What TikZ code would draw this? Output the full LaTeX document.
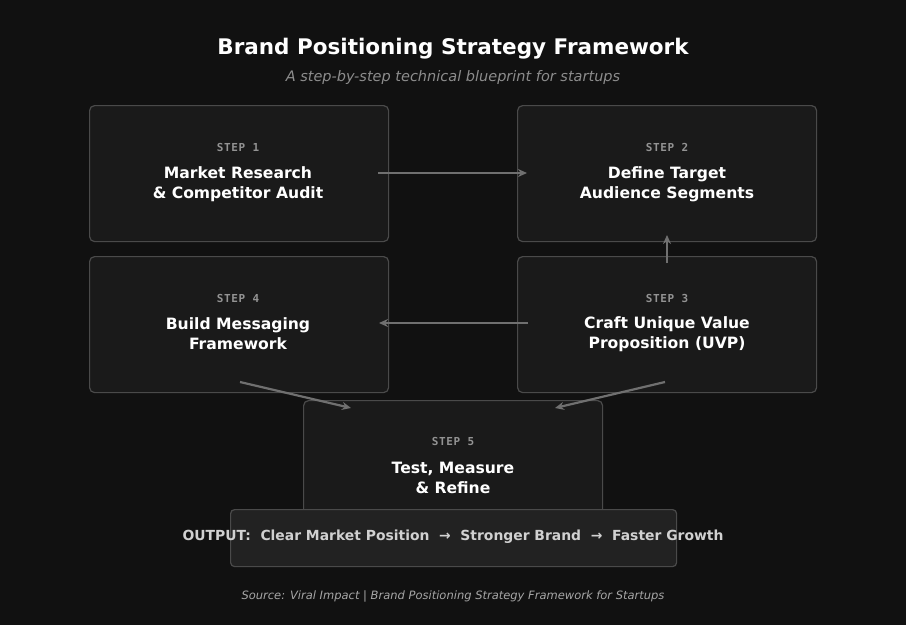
\documentclass[tikz,border=0pt]{standalone}
\usepackage{fontspec}
\setmainfont{DejaVu Sans}
\newfontfamily\monof[LetterSpace=6]{DejaVu Sans Mono}
\usetikzlibrary{arrows.meta}
\definecolor{bg}{HTML}{111111}
\definecolor{boxf}{HTML}{1A1A1A}
\definecolor{boxd}{HTML}{4A4A4A}
\definecolor{arr}{HTML}{707070}
\definecolor{outf}{HTML}{222222}
\tikzset{
 stepbox/.style={draw=boxd,fill=boxf,line width=1.2pt,rounded corners=5pt,minimum width=299pt,minimum height=136pt,anchor=north west},
 steplbl/.style={text=gray!85,font=\monof\bfseries\fontsize{11}{13}\selectfont},
 steptxt/.style={text=white,align=center,font=\bfseries\fontsize{15.6}{20}\selectfont},
 conn/.style={draw=arr,line width=2.2pt,-{Stealth[length=9pt,width=8pt]}}
}
\begin{document}
\begin{tikzpicture}[x=1pt,y=-1pt]
\useasboundingbox (0,0) rectangle (906,625);
\fill[bg] (0,0) rectangle (906,625);
\node[text=white,font=\bfseries\fontsize{21.5}{25}\selectfont] (title) at (453,49) {Brand Positioning Strategy Framework};
\node[text=gray!90,font=\itshape\fontsize{14.5}{17}\selectfont] (sub) at (453,77) {A step-by-step technical blueprint for startups};
\node[stepbox] (s1) at (89,105) {};
\node[stepbox] (s2) at (517,105) {};
\node[stepbox] (s4) at (89,256) {};
\node[stepbox] (s3) at (517,256) {};
\node[stepbox,minimum height=120pt] (s5) at (303,400) {};
\node[steplbl] at (238,147) {STEP 1};
\node[steptxt] at (238,184) {Market Research\\\& Competitor Audit};
\node[steplbl] at (667,147) {STEP 2};
\node[steptxt] at (667,184) {Define Target\\Audience Segments};
\node[steplbl] at (238,298) {STEP 4};
\node[steptxt] at (238,334) {Build Messaging\\Framework};
\node[steplbl] at (667,298) {STEP 3};
\node[steptxt] at (667,334) {Craft Unique Value\\Proposition (UVP)};
\node[steplbl] at (453,441) {STEP 5};
\node[steptxt] at (453,478) {Test, Measure\\\& Refine};
\node[draw=boxd,fill=outf,line width=1.2pt,rounded corners=4pt,minimum width=446pt,minimum height=57pt,anchor=north west] (out) at (230,509) {};
\node[text=white!82!black,font=\bfseries\fontsize{13.9}{17}\selectfont] at (453,537) {OUTPUT:\ \ Clear Market Position\ \ →\ \ Stronger Brand\ \ →\ \ Faster Growth};
\node[text=gray!70,font=\itshape\fontsize{11.5}{13}\selectfont] (src) at (453,596) {Source: Viral Impact | Brand Positioning Strategy Framework for Startups};
\coordinate (a1) at (378,173); \coordinate (b1) at (527,173);
\draw[conn] (a1) -- (b1);
\coordinate (a2) at (667,263); \coordinate (b2) at (667,235);
\draw[conn] (a2) -- (b2);
\coordinate (a3) at (528,323); \coordinate (b3) at (379,323);
\draw[conn] (a3) -- (b3);
\coordinate (a4) at (240,382); \coordinate (b4) at (351,408);
\draw[conn] (a4) -- (b4);
\coordinate (a5) at (665,382); \coordinate (b5) at (555,408);
\draw[conn] (a5) -- (b5);
\end{tikzpicture}
\end{document}
